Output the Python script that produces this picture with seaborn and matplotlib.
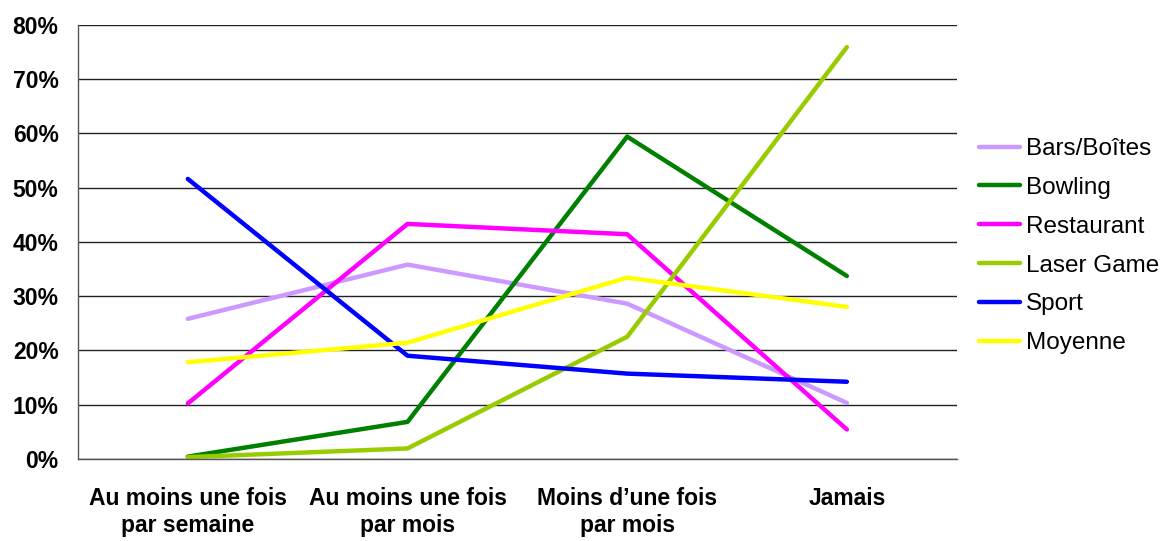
import matplotlib
matplotlib.use("Agg")
from matplotlib import pyplot as plt
import matplotlib.ticker as mtick
import pandas as pd
import seaborn as sns

categories = ["Au moins une fois\npar semaine", "Au moins une fois\npar mois",
              "Moins d\u2019une fois\npar mois", "Jamais"]
series = ["Bars/Boîtes", "Bowling", "Restaurant", "Laser Game", "Sport", "Moyenne"]

bars = [25.8, 35.8, 28.6, 10.3]
bowling = [0.4, 6.8, 59.4, 33.7]
restaurant = [10.2, 43.3, 41.4, 5.4]
laser = [0.3, 1.9, 22.5, 75.9]
sport = [51.6, 19.0, 15.7, 14.2]
moyenne = [17.8, 21.4, 33.4, 28.0]

colors = ["#CC99FF", "#008000", "#FF00FF", "#99CC00", "#0000FF", "#FFFF00"]

values = [bars, bowling, restaurant, laser, sport, moyenne]
rows = []
for name, vals in zip(series, values):
    for i, v in enumerate(vals):
        rows.append({"serie": name, "pos": i, "val": v / 100})
df = pd.DataFrame(rows)

sns.set_style("white")
plt.rcParams["font.family"] = ["Liberation Sans", "DejaVu Sans"]
plt.rcParams["text.color"] = "black"
plt.rcParams["xtick.labelcolor"] = "black"
plt.rcParams["ytick.labelcolor"] = "black"

fig = plt.figure(figsize=(11.71, 5.41), dpi=100)
ax = fig.add_axes([0.0666, 0.152, 0.817 - 0.0666, 0.954 - 0.152])

sns.lineplot(data=df, x="pos", y="val", hue="serie", hue_order=series,
             palette=dict(zip(series, colors)), linewidth=3.2, ax=ax,
             legend=True)
for line in ax.get_lines():
    line.set_solid_capstyle("round")

ax.set_xlim(-0.5, 3.5)
ax.set_ylim(0, 0.8)
ax.yaxis.set_major_locator(mtick.MultipleLocator(0.1))
ax.yaxis.set_major_formatter(mtick.PercentFormatter(1.0, decimals=0))
ax.grid(axis="y", color="#222222", linewidth=1)
ax.set_axisbelow(True)

ax.set_xticks(range(len(categories)))
ax.set_xticklabels(categories, fontweight="bold", fontsize=16.5, linespacing=1.25)
ax.set_xticks([-0.5, 0.5, 1.5, 2.5, 3.5], minor=True)
ax.tick_params(axis="x", which="major", length=0, pad=20)
ax.tick_params(axis="x", which="minor", length=6, width=1, color="#555555", direction="out")
ax.tick_params(axis="y", length=6, width=1, color="#555555", direction="out", pad=8,
               labelsize=16.5)
for t in ax.get_yticklabels():
    t.set_fontweight("bold")

ax.set_xlabel("")
ax.set_ylabel("")
for s in ["top", "right"]:
    ax.spines[s].set_visible(False)
for s in ["left", "bottom"]:
    ax.spines[s].set_color("#555555")
    ax.spines[s].set_linewidth(1)

handles, labels = ax.get_legend_handles_labels()
ax.get_legend().remove()
leg = fig.legend(handles, labels, loc="center left", bbox_to_anchor=(0.836, 0.545),
                 frameon=False, fontsize=17.5, handlelength=1.7, handletextpad=0.25,
                 labelspacing=0.69, borderaxespad=0, borderpad=0)
for t in leg.get_texts():
    t.set_color("black")

fig.savefig("out.png", dpi=100)
